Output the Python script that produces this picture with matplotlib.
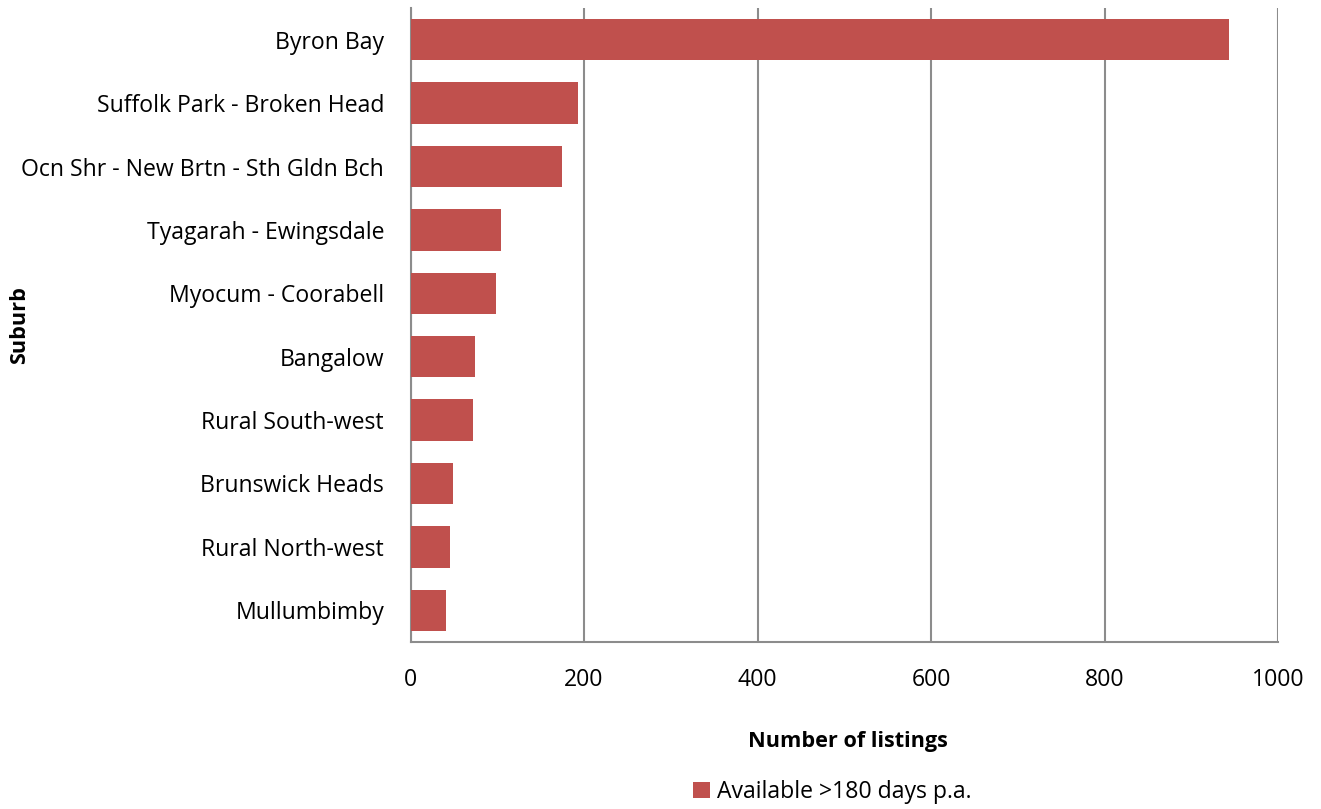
import numpy as np
import matplotlib.pyplot as plt

plt.rcParams['font.family'] = ['Open Sans', 'DejaVu Sans']

suburbs = ["Byron Bay", "Suffolk Park - Broken Head", "Ocn Shr - New Brtn - Sth Gldn Bch",
           "Tyagarah - Ewingsdale", "Myocum - Coorabell", "Bangalow", "Rural South-west",
           "Brunswick Heads", "Rural North-west", "Mullumbimby"]
listings = [943, 193, 175, 104, 98, 74, 72, 49, 46, 41]
series_name = "Available >180 days p.a."

fig = plt.figure(figsize=(13.21, 8.09), dpi=100)
ax = fig.add_axes([410.5/1321, 1 - 642/809, 867.5/1321, 634/809])

y = np.arange(len(suburbs))
ax.barh(y, listings, height=0.65, color="#C0504D", label=series_name, zorder=3)
ax.set_ylim(len(suburbs) - 0.5, -0.5)
ax.set_yticks(y)
ax.set_yticklabels(suburbs, fontsize=16.6)
ax.set_xlim(0, 1000)
ax.set_xticks(range(0, 1001, 200))
ax.tick_params(axis='x', labelsize=16.6, length=0, pad=19)
ax.tick_params(axis='y', length=0, pad=19)
ax.grid(axis='x', color="#8c8c8c", linewidth=1.5, zorder=0)
for s in ['top', 'right']:
    ax.spines[s].set_visible(False)
for s in ['left', 'bottom']:
    ax.spines[s].set_color("#8c8c8c")
    ax.spines[s].set_linewidth(1.5)

fig.text(848/1321, 1 - 741/809, "Number of listings", ha='center', va='center',
         fontsize=15.6, fontweight='bold')
fig.text(20/1321, 1 - 325/809, "Suburb", ha='center', va='center', rotation=90,
         fontsize=15.6, fontweight='bold')
fig.legend(loc='center', bbox_to_anchor=(832/1321, 1 - 792/809), frameon=False,
           fontsize=16.6, handlelength=0.75, handleheight=0.75, handletextpad=0.3)

fig.savefig("out.png", dpi=100)
